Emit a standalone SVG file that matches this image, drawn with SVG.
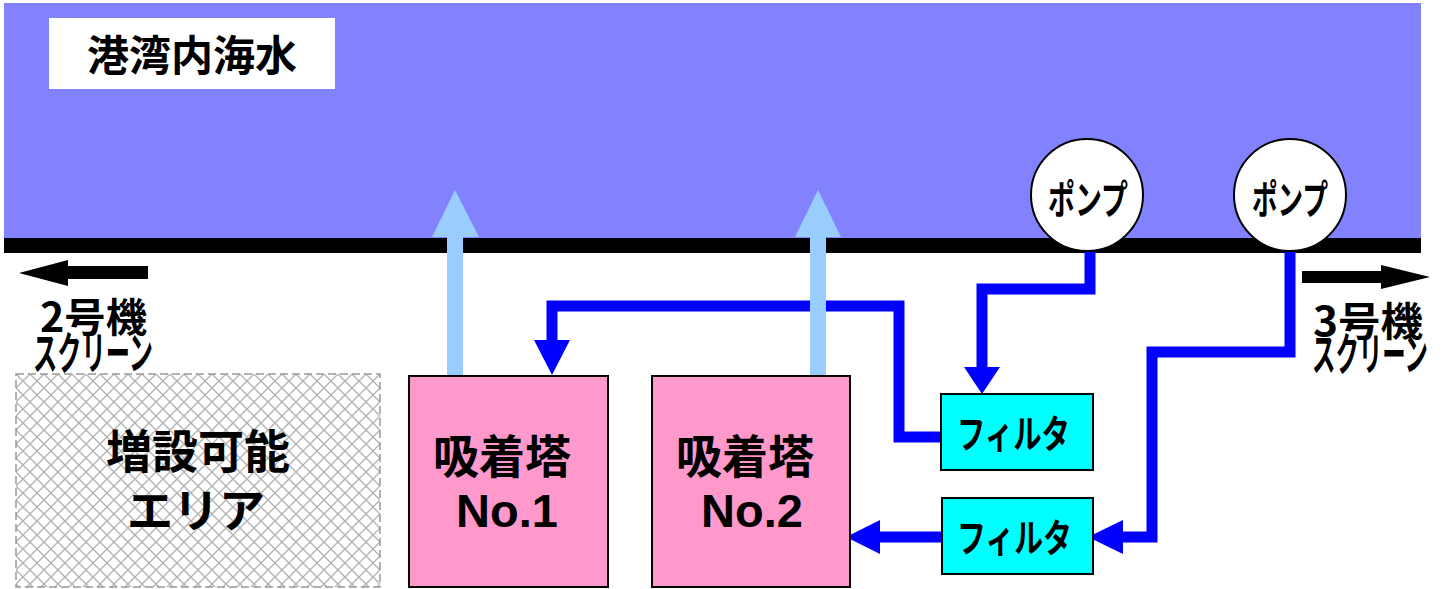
<svg xmlns="http://www.w3.org/2000/svg" width="1448" height="589" viewBox="0 0 1448 589">
<style>
.jp{font-family:"Noto Sans CJK JP","Noto Sans",sans-serif;font-weight:bold;fill:#000}
.en{font-family:"Liberation Sans",Arial,sans-serif;font-weight:bold;fill:#000}
.box{stroke:#000;stroke-width:2}
.pipe{fill:none;stroke:#0000ff;stroke-width:11;stroke-linejoin:miter}
.head{fill:#0000ff}
.out{fill:#99ccff}
</style>
<defs>
<pattern id="hatch" x="16" y="374" width="14" height="14" patternUnits="userSpaceOnUse">
<rect width="14" height="14" fill="#ffffff"/>
<path d="M0,0 L14,14 M14,0 L0,14" stroke="#b4b4b4" stroke-width="1.4"/>
</pattern>
</defs>
<rect width="1448" height="589" fill="#ffffff"/>
<g id="sea">
<rect x="4" y="3" width="1417" height="236" fill="#8282ff"/>
<rect x="4" y="238" width="1417" height="15" fill="#000"/>
<rect x="49" y="18" width="286" height="71" fill="#ffffff"/>
<text class="jp" x="192" y="71" font-size="42" text-anchor="middle">港湾内海水</text>
</g>
<g id="screen2">
<polygon points="19,273 68,260 68,266 148,266 148,279 68,279 68,286" fill="#000"/>
<text class="jp" x="40" y="332" font-size="40" textLength="107" lengthAdjust="spacingAndGlyphs">2号機</text>
<text class="jp" transform="translate(33,370) scale(1,1.25)" font-size="36" textLength="120" lengthAdjust="spacingAndGlyphs">スクリーン</text>
</g>
<g id="screen3">
<polygon points="1430,277 1381,265 1381,271 1302,271 1302,283 1381,283 1381,289" fill="#000"/>
<text class="jp" x="1313" y="336" font-size="40" textLength="110" lengthAdjust="spacingAndGlyphs">3号機</text>
<text class="jp" transform="translate(1312,371) scale(1,1.25)" font-size="36" textLength="116" lengthAdjust="spacingAndGlyphs">スクリーン</text>
</g>
<g id="expansion">
<rect x="16" y="374" width="364" height="213" fill="url(#hatch)" stroke="#999" stroke-width="1.5" stroke-dasharray="8,4"/>
<text class="jp" x="198" y="468" font-size="46" text-anchor="middle">増設可能</text>
<text class="jp" x="196" y="527" font-size="46" text-anchor="middle">エリア</text>
</g>
<g id="connectors">
<polyline class="pipe" points="1090,252 1090,289 982,289 982,370"/>
<polygon class="head" points="964,367 1000,367 982,394"/>
<polyline class="pipe" points="941,437 899,437 899,306 552,306 552,342"/>
<polygon class="head" points="534,340 570,340 552,375"/>
<polyline class="pipe" points="1290,252 1290,352 1152,352 1152,537 1120,537"/>
<polygon class="head" points="1123,520 1123,554 1088,537"/>
<line class="pipe" x1="942" y1="537" x2="878" y2="537"/>
<polygon class="head" points="880,520 880,554 846,537"/>
<rect class="out" x="447" y="234" width="16" height="142"/>
<polygon class="out" points="432,237 455,190 479,237"/>
<rect class="out" x="810" y="234" width="16" height="142"/>
<polygon class="out" points="795,237 818,190 841,237"/>
</g>
<g id="pump1">
<circle class="box" cx="1087" cy="195" r="56" fill="#ffffff"/>
<text class="jp" x="1088" y="214" font-size="40" text-anchor="middle" textLength="80" lengthAdjust="spacingAndGlyphs">ポンプ</text>
</g>
<g id="pump2">
<circle class="box" cx="1290" cy="195" r="56" fill="#ffffff"/>
<text class="jp" x="1290" y="214" font-size="40" text-anchor="middle" textLength="76" lengthAdjust="spacingAndGlyphs">ポンプ</text>
</g>
<g id="tower1">
<rect class="box" x="409" y="376" width="199" height="211" fill="#ff99cc"/>
<text class="jp" x="502" y="473" font-size="46" text-anchor="middle">吸着塔</text>
<text class="en" x="507" y="527" font-size="47" text-anchor="middle">No.1</text>
</g>
<g id="tower2">
<rect class="box" x="652" y="376" width="198" height="211" fill="#ff99cc"/>
<text class="jp" x="745" y="473" font-size="46" text-anchor="middle">吸着塔</text>
<text class="en" x="752" y="527" font-size="47" text-anchor="middle">No.2</text>
</g>
<g id="filter1">
<rect class="box" x="941" y="394" width="152" height="76" fill="#00ffff"/>
<text class="jp" x="957" y="448" font-size="39" textLength="113" lengthAdjust="spacingAndGlyphs">フィルタ</text>
</g>
<g id="filter2">
<rect class="box" x="942" y="498" width="151" height="76" fill="#00ffff"/>
<text class="jp" x="957" y="552" font-size="39" textLength="115" lengthAdjust="spacingAndGlyphs">フィルタ</text>
</g>
</svg>
